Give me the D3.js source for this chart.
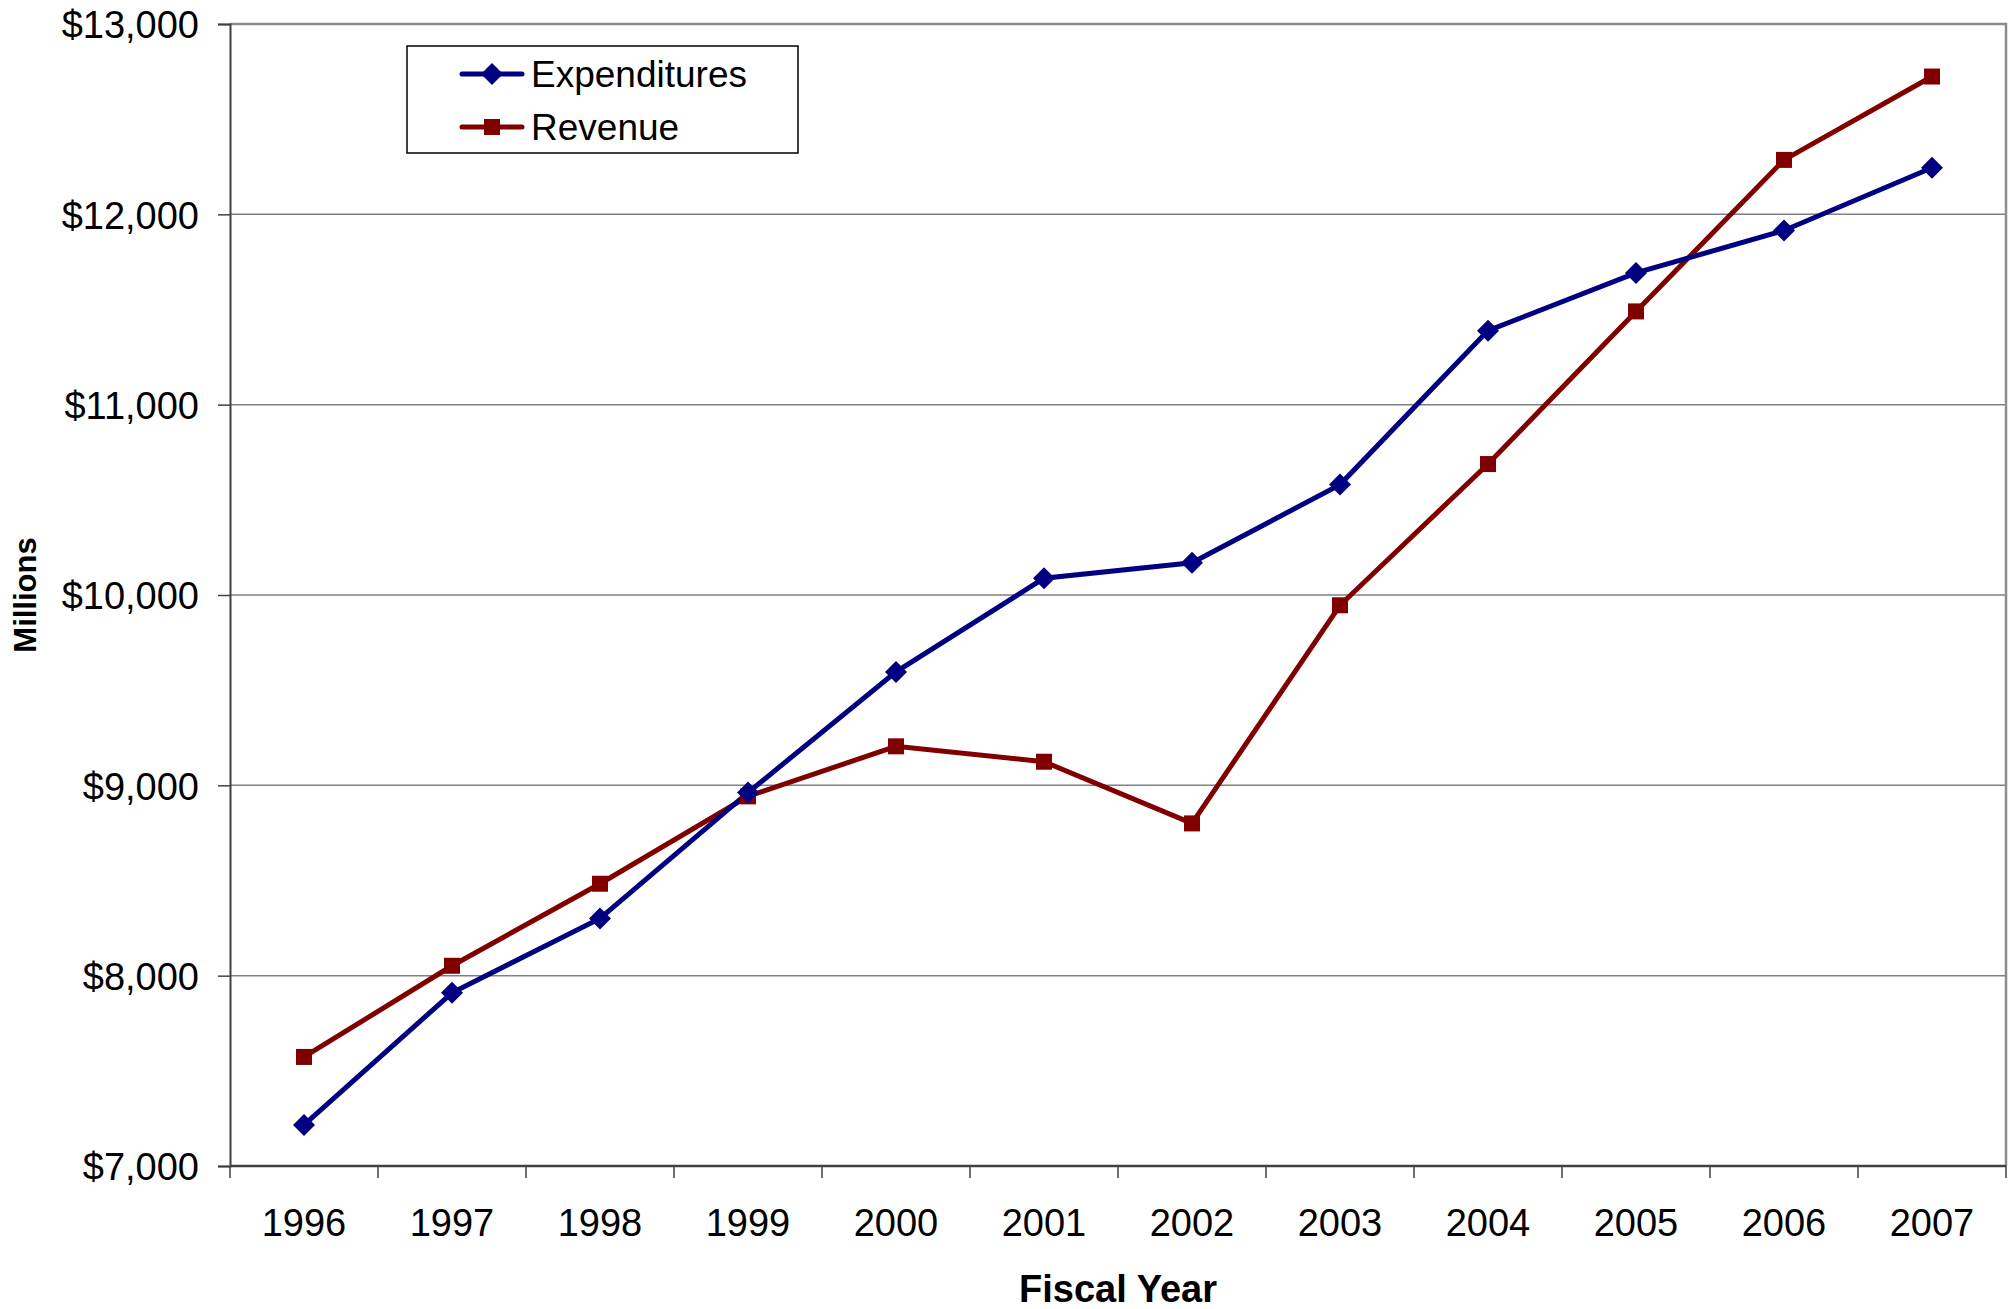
<!DOCTYPE html>
<html>
<head>
<meta charset="utf-8">
<script src="https://cdn.jsdelivr.net/npm/d3@7"></script>
<style>
  html, body { margin: 0; padding: 0; background: #fff; }
  text { font-family: "Liberation Sans", Arial, sans-serif; }
</style>
</head>
<body>
<div id="chart"></div>
<script>
// chart data
const years = ["1996", "1997", "1998", "1999", "2000", "2001", "2002", "2003", "2004", "2005", "2006", "2007"];
const expenditures = [7216, 7910, 8301, 8962, 9596, 10088, 10169, 10580, 11389, 11692, 11915, 12245];
const revenue = [7573, 8052, 8483, 8942, 9205, 9124, 8800, 9946, 10688, 11490, 12286, 12724];
const yTicks = [7000, 8000, 9000, 10000, 11000, 12000, 13000];
const seriesNames = ["Expenditures", "Revenue"];

const width = 2013;
const height = 1309;
const margin = { top: 24, right: 7, bottom: 143, left: 230 };
const plotW = width - margin.left - margin.right;
const plotH = height - margin.top - margin.bottom;

const navy = "#000080";
const maroon = "#800000";

const svg = d3.select("#chart").append("svg")
    .attr("width", width)
    .attr("height", height);

const g = svg.append("g")
    .attr("transform", `translate(${margin.left},${margin.top})`);

const x = d3.scaleBand()
    .domain(years)
    .range([0, plotW]);

const y = d3.scaleLinear()
    .domain([7000, 13000])
    .range([plotH, 0]);

// gridlines
g.selectAll("line.grid")
    .data(yTicks.slice(1, -1))
    .enter()
    .append("line")
    .attr("class", "grid")
    .attr("x1", 0)
    .attr("x2", plotW)
    .attr("y1", d => y(d))
    .attr("y2", d => y(d))
    .attr("stroke", "#808080")
    .attr("stroke-width", 1.5);

// top and right frame
g.append("path")
    .attr("d", `M0,${y(13000)}H${plotW}V${plotH}`)
    .attr("fill", "none")
    .attr("stroke", "#8c8c8c")
    .attr("stroke-width", 2.5);

// y axis
const yAxis = g.append("g")
    .call(d3.axisLeft(y).tickValues(yTicks).tickSize(12).tickPadding(19)
        .tickFormat(d => "$" + d3.format(",")(d)));
yAxis.select(".domain").attr("stroke", "#404040").attr("stroke-width", 2);
yAxis.selectAll(".tick line").attr("stroke", "#404040").attr("stroke-width", 1.5);
yAxis.selectAll("text")
    .attr("font-size", 38)
    .attr("fill", "#000")
    .attr("dy", "0.36em")
    .style("font-family", "'Liberation Sans', Arial, sans-serif");

// x axis: ticks sit on category boundaries
const xAxis = g.append("g")
    .attr("transform", `translate(0,${plotH})`);
xAxis.append("line")
    .attr("x1", 0).attr("x2", plotW)
    .attr("stroke", "#404040").attr("stroke-width", 2.5);
xAxis.selectAll("line.tick")
    .data(years.concat(["end"]))
    .enter()
    .append("line")
    .attr("class", "tick")
    .attr("x1", (d, i) => i * x.bandwidth())
    .attr("x2", (d, i) => i * x.bandwidth())
    .attr("y1", 0)
    .attr("y2", 12)
    .attr("stroke", "#404040")
    .attr("stroke-width", 1.5);
xAxis.selectAll("text.lbl")
    .data(years)
    .enter()
    .append("text")
    .attr("class", "lbl")
    .attr("x", d => x(d) + x.bandwidth() / 2)
    .attr("y", 70)
    .attr("text-anchor", "middle")
    .attr("font-size", 38)
    .text(d => d);

// axis titles
svg.append("text")
    .attr("x", margin.left + plotW / 2)
    .attr("y", 1302)
    .attr("text-anchor", "middle")
    .attr("font-size", 38)
    .attr("font-weight", "bold")
    .text("Fiscal Year");

svg.append("text")
    .attr("transform", `translate(36,${margin.top + plotH / 2}) rotate(-90)`)
    .attr("text-anchor", "middle")
    .attr("font-size", 31)
    .attr("font-weight", "bold")
    .text("Millions");

// lines
const line = d3.line()
    .x((d, i) => x(years[i]) + x.bandwidth() / 2)
    .y(d => y(d));

g.append("path")
    .datum(revenue)
    .attr("d", line)
    .attr("fill", "none")
    .attr("stroke", maroon)
    .attr("stroke-width", 5);

g.append("path")
    .datum(expenditures)
    .attr("d", line)
    .attr("fill", "none")
    .attr("stroke", navy)
    .attr("stroke-width", 5);

const diamond = s => `M0,${-s}L${s},0L0,${s}L${-s},0Z`;

g.selectAll("rect.rev")
    .data(revenue)
    .enter()
    .append("rect")
    .attr("class", "rev")
    .attr("x", (d, i) => x(years[i]) + x.bandwidth() / 2 - 8)
    .attr("y", d => y(d) - 8)
    .attr("width", 16)
    .attr("height", 16)
    .attr("fill", maroon);

g.selectAll("path.exp")
    .data(expenditures)
    .enter()
    .append("path")
    .attr("class", "exp")
    .attr("d", diamond(11))
    .attr("transform", (d, i) => `translate(${x(years[i]) + x.bandwidth() / 2},${y(d)})`)
    .attr("fill", navy);

// legend
const legend = svg.append("g");
legend.append("rect")
    .attr("x", 407)
    .attr("y", 46)
    .attr("width", 391)
    .attr("height", 107)
    .attr("fill", "#fff")
    .attr("stroke", "#000")
    .attr("stroke-width", 1.5);

const legendRows = [
    { name: seriesNames[0], color: navy, y: 74 },
    { name: seriesNames[1], color: maroon, y: 127 }
];

legendRows.forEach((r, i) => {
    legend.append("line")
        .attr("x1", 462).attr("x2", 522)
        .attr("y1", r.y).attr("y2", r.y)
        .attr("stroke", r.color)
        .attr("stroke-width", 5)
        .attr("stroke-linecap", "round");
    if (i === 0) {
        legend.append("path")
            .attr("d", diamond(11))
            .attr("transform", `translate(492,${r.y})`)
            .attr("fill", r.color);
    } else {
        legend.append("rect")
            .attr("x", 484).attr("y", r.y - 8)
            .attr("width", 16).attr("height", 16)
            .attr("fill", r.color);
    }
    legend.append("text")
        .attr("x", 531)
        .attr("y", r.y)
        .attr("dy", "0.36em")
        .attr("font-size", 37)
        .text(r.name);
});
</script>
</body>
</html>
